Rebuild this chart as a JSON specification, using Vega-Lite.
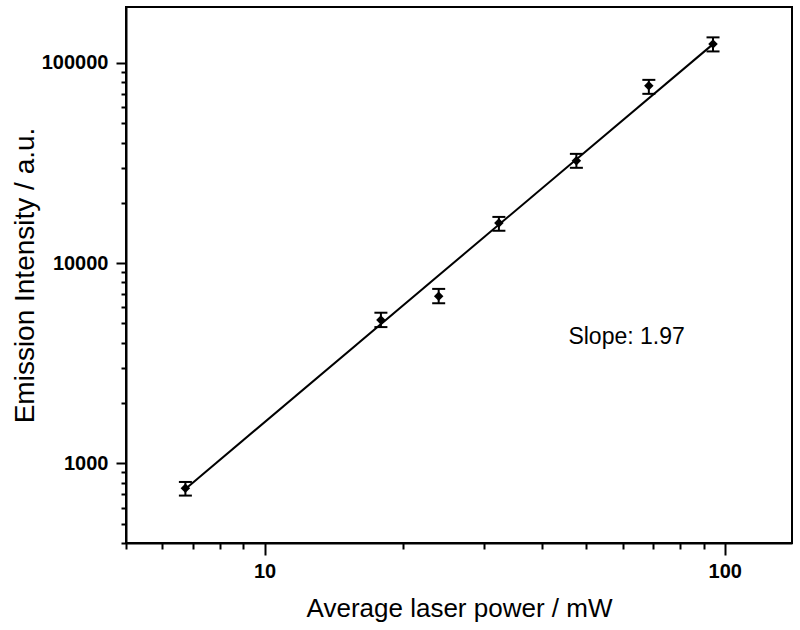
{
  "$schema": "https://vega.github.io/schema/vega-lite/v6.json",
  "width": 666,
  "height": 536,
  "autosize": {"type": "none"},
  "padding": {"left": 126, "top": 7, "right": 8, "bottom": 87},
  "background": "white",
  "config": {
    "font": "Liberation Sans",
    "view": {"stroke": "black", "strokeWidth": 2},
    "axis": {
      "domainColor": "black",
      "domainWidth": 2,
      "tickColor": "black",
      "tickWidth": 2,
      "grid": false,
      "labelFont": "Arial",
      "labelFontWeight": "bold",
      "labelFontSize": 20,
      "labelColor": "black",
      "titleFont": "Liberation Sans",
      "titleFontWeight": "normal",
      "titleColor": "black",
      "labelOverlap": false,
      "labelBound": false,
      "labelFlush": false
    },
    "axisX": {"titleFontSize": 26},
    "axisY": {"titleFontSize": 28}
  },
  "datasets": {
    "pts": [
      {"p": 6.73, "i": 750, "lo": 690, "hi": 807},
      {"p": 17.9, "i": 5190, "lo": 4790, "hi": 5650},
      {"p": 23.9, "i": 6820, "lo": 6300, "hi": 7430},
      {"p": 32.3, "i": 15850, "lo": 14500, "hi": 17000},
      {"p": 47.6, "i": 32400, "lo": 29900, "hi": 35100},
      {"p": 68.4, "i": 76800, "lo": 70000, "hi": 82200},
      {"p": 94.3, "i": 124000, "lo": 114000, "hi": 134000}
    ],
    "fit": [
      {"p": 6.73, "i": 745},
      {"p": 94.3, "i": 124000}
    ],
    "note": [
      {"p": 61.2, "i": 4250, "label": "Slope: 1.97"}
    ]
  },
  "layer": [
    {
      "data": {"name": "fit"},
      "mark": {"type": "line", "color": "black", "strokeWidth": 2},
      "encoding": {
        "x": {
          "field": "p", "type": "quantitative",
          "scale": {"type": "log", "domain": [5, 140]},
          "axis": {
            "title": "Average laser power / mW",
            "values": [5, 6, 7, 8, 9, 10, 20, 30, 40, 50, 60, 70, 80, 90, 100],
            "labelExpr": "datum.value == 10 ? '10' : datum.value == 100 ? '100' : ''",
            "tickSize": {"condition": {"test": "datum.value == 10 || datum.value == 100", "value": 12}, "value": 6},
            "labelPadding": 6,
            "titlePadding": 14
          }
        },
        "y": {
          "field": "i", "type": "quantitative",
          "scale": {"type": "log", "domain": [400, 190000]},
          "axis": {
            "title": "Emission Intensity / a.u.",
            "values": [400, 500, 600, 700, 800, 900, 1000, 2000, 3000, 4000, 5000, 6000, 7000, 8000, 9000, 10000, 20000, 30000, 40000, 50000, 60000, 70000, 80000, 90000, 100000],
            "labelExpr": "datum.value == 1000 ? '1000' : datum.value == 10000 ? '10000' : datum.value == 100000 ? '100000' : ''",
            "tickSize": {"condition": {"test": "datum.value == 1000 || datum.value == 10000 || datum.value == 100000", "value": 10}, "value": 5},
            "labelPadding": 8,
            "titlePadding": 2
          }
        }
      }
    },
    {
      "data": {"name": "pts"},
      "mark": {"type": "rule", "color": "black", "strokeWidth": 2},
      "encoding": {
        "x": {"field": "p", "type": "quantitative", "scale": {"type": "log", "domain": [5, 140]}, "title": "Average laser power / mW"},
        "y": {"field": "lo", "type": "quantitative", "scale": {"type": "log", "domain": [400, 190000]}, "title": "Emission Intensity / a.u."},
        "y2": {"field": "hi"}
      }
    },
    {
      "data": {"name": "pts"},
      "mark": {"type": "tick", "color": "black", "orient": "horizontal", "size": 13, "thickness": 2, "opacity": 1},
      "encoding": {
        "x": {"field": "p", "type": "quantitative", "scale": {"type": "log", "domain": [5, 140]}, "title": "Average laser power / mW"},
        "y": {"field": "lo", "type": "quantitative", "scale": {"type": "log", "domain": [400, 190000]}, "title": "Emission Intensity / a.u."}
      }
    },
    {
      "data": {"name": "pts"},
      "mark": {"type": "tick", "color": "black", "orient": "horizontal", "size": 13, "thickness": 2, "opacity": 1},
      "encoding": {
        "x": {"field": "p", "type": "quantitative", "scale": {"type": "log", "domain": [5, 140]}, "title": "Average laser power / mW"},
        "y": {"field": "hi", "type": "quantitative", "scale": {"type": "log", "domain": [400, 190000]}, "title": "Emission Intensity / a.u."}
      }
    },
    {
      "data": {"name": "pts"},
      "mark": {"type": "point", "shape": "diamond", "filled": true, "color": "black", "size": 90, "opacity": 1},
      "encoding": {
        "x": {"field": "p", "type": "quantitative", "scale": {"type": "log", "domain": [5, 140]}, "title": "Average laser power / mW"},
        "y": {"field": "i", "type": "quantitative", "scale": {"type": "log", "domain": [400, 190000]}, "title": "Emission Intensity / a.u."}
      }
    },
    {
      "data": {"name": "note"},
      "mark": {"type": "text", "font": "Liberation Sans", "fontSize": 23, "color": "black", "align": "center", "baseline": "middle"},
      "encoding": {
        "x": {"field": "p", "type": "quantitative", "scale": {"type": "log", "domain": [5, 140]}, "title": "Average laser power / mW"},
        "y": {"field": "i", "type": "quantitative", "scale": {"type": "log", "domain": [400, 190000]}, "title": "Emission Intensity / a.u."},
        "text": {"field": "label"}
      }
    }
  ]
}
